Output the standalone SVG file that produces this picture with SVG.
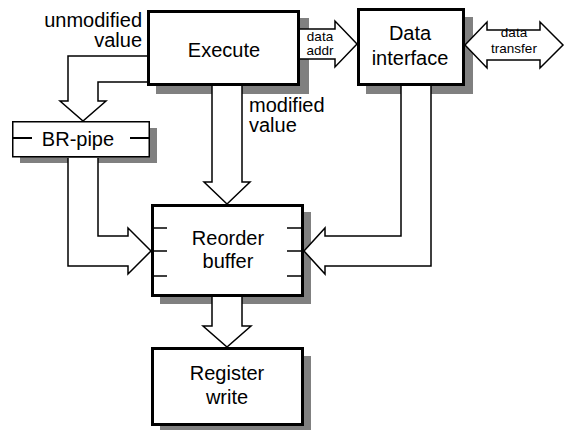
<svg xmlns="http://www.w3.org/2000/svg" width="565" height="430" viewBox="0 0 565 430">
  <style>
    .shadow { fill: #808080; }
    .box { fill: #ffffff; stroke: #000000; stroke-width: 3; }
    .thin { fill: #ffffff; stroke: #000000; stroke-width: 1.5; }
    .tick { stroke: #000000; stroke-width: 1.5; fill: none; }
    .arrow { fill: #ffffff; stroke: #000000; stroke-width: 1.5; stroke-linejoin: miter; }
    text { font-family: "Liberation Sans", Arial, Helvetica, sans-serif; fill: #000000; }
    .lbl { font-size: 20px; }
    .mid { text-anchor: middle; }
    .small { font-size: 13.5px; }
  </style>

  <rect width="565" height="430" fill="#ffffff"/>

  <!-- processing stages -->
  <g id="execute">
    <rect class="shadow" x="156" y="18" width="153" height="76"/>
    <rect class="box" x="148.5" y="11.5" width="150" height="73"/>
    <text class="lbl mid" x="224" y="57">Execute</text>
  </g>

  <g id="data-interface">
    <rect class="shadow" x="366" y="17" width="107" height="77"/>
    <rect class="box" x="358.5" y="9.5" width="105" height="75"/>
    <text class="lbl mid" x="410" y="40">Data</text>
    <text class="lbl mid" x="410" y="65">interface</text>
  </g>

  <g id="br-pipe">
    <rect class="shadow" x="20" y="128" width="137" height="35"/>
    <rect class="thin" x="12.75" y="121.75" width="136.5" height="35"/>
    <line x1="12" y1="138" x2="32" y2="138" stroke="#000" stroke-width="2"/>
    <line x1="130" y1="138" x2="150" y2="138" stroke="#000" stroke-width="2"/>
    <text class="lbl mid" x="78" y="146">BR-pipe</text>
  </g>

  <g id="reorder-buffer">
    <rect class="shadow" x="160" y="212" width="151" height="92"/>
    <rect class="box" x="152.5" y="205.5" width="150" height="90"/>
    <path class="tick" d="M152,228 H167 M152,251 H167 M152,276 H167 M287,228 H302 M287,251 H302 M287,276 H302"/>
    <text class="lbl mid" x="228" y="245">Reorder</text>
    <text class="lbl mid" x="228" y="268">buffer</text>
  </g>

  <g id="register-write">
    <rect class="shadow" x="160" y="356" width="151" height="80"/>
    <rect class="box" x="152.5" y="348.5" width="150" height="76"/>
    <text class="lbl mid" x="227" y="380">Register</text>
    <text class="lbl mid" x="227" y="404">write</text>
  </g>

  <!-- wide data-path arrows -->
  <g id="connectors">
    <path class="arrow" d="M147,56 H68 V101 H60 L83,121 L106,101 H98 V82 H147"/>
    <path class="arrow" d="M212,86 V182 H204 L227,204 L250,182 H242 V86"/>
    <path class="arrow" d="M300,29 H335 V21 L357,44 L335,67 V59 H300"/>
    <path class="arrow" d="M465,45 L487,22 V30 H540 V22 L563,45 L540,68 V60 H487 V68 Z"/>
    <path class="arrow" d="M401,86 V236 H325 V228 L304,251 L325,274 V266 H431 V86"/>
    <path class="arrow" d="M98,158 V236 H128 V228 L151,251 L128,274 V266 H68 V158"/>
    <path class="arrow" d="M212,297 V326 H203 L227,347 L251,326 H242 V297"/>
  </g>

  <!-- connector labels -->
  <g id="labels">
    <text class="lbl" x="142" y="27" text-anchor="end">unmodified</text>
    <text class="lbl" x="142" y="47" text-anchor="end">value</text>
    <text class="lbl" x="249" y="112">modified</text>
    <text class="lbl" x="249" y="132">value</text>
    <text class="small mid" x="320" y="41">data</text>
    <text class="small mid" x="320" y="55">addr</text>
    <text class="small mid" x="514" y="37">data</text>
    <text class="small mid" x="514" y="53">transfer</text>
  </g>
</svg>
